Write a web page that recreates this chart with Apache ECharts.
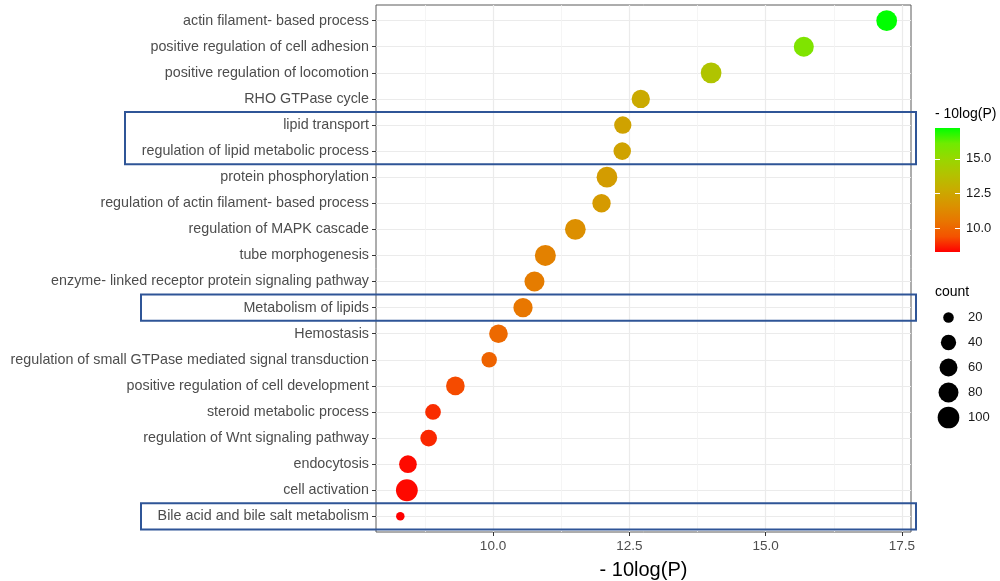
<!DOCTYPE html>
<html>
<head>
<meta charset="utf-8">
<title>Enrichment dot plot</title>
<script src="https://cdn.jsdelivr.net/npm/echarts@6/dist/echarts.min.js"></script>
<style>
  html, body { margin: 0; padding: 0; background: #ffffff; }
  #main { width: 1000px; height: 581px; }
</style>
</head>
<body>
<div id="main"></div>
<script>
// Enriched terms, top to bottom
const terms = [
  'actin filament- based process',
  'positive regulation of cell adhesion',
  'positive regulation of locomotion',
  'RHO GTPase cycle',
  'lipid transport',
  'regulation of lipid metabolic process',
  'protein phosphorylation',
  'regulation of actin filament- based process',
  'regulation of MAPK cascade',
  'tube morphogenesis',
  'enzyme- linked receptor protein signaling pathway',
  'Metabolism of lipids',
  'Hemostasis',
  'regulation of small GTPase mediated signal transduction',
  'positive regulation of cell development',
  'steroid metabolic process',
  'regulation of Wnt signaling pathway',
  'endocytosis',
  'cell activation',
  'Bile acid and bile salt metabolism'
];

// -10log(P) for each term
const logP = [17.22, 15.70, 14.00, 12.71, 12.38, 12.37, 12.09, 11.99, 11.51, 10.96,
              10.76, 10.55, 10.10, 9.93, 9.31, 8.90, 8.82, 8.44, 8.42, 8.30];

// gene count for each term
const counts = [89, 81, 89, 64, 55, 57, 89, 64, 89, 92,
                81, 73, 67, 41, 67, 43, 50, 58, 102, 18];

const xTicks = [10, 12.5, 15, 17.5];
const xMinorTicks = [8.75, 11.25, 13.75, 16.25];
const colorbarTicks = [10, 12.5, 15];
const countBreaks = [20, 40, 60, 80, 100];

// terms framed together
const highlightGroups = [
  ['lipid transport', 'regulation of lipid metabolic process'],
  ['Metabolism of lipids'],
  ['Bile acid and bile salt metabolism']
];

// red -> green ramp, interpolated in Lab space
const rampColors = ['#ff0000', '#f45300', '#e87600', '#da9200', '#c9ab00',
                    '#b3c200', '#98d700', '#70eb00', '#00ff00'];

const FONT = '"Liberation Sans", Arial, Helvetica, sans-serif';
const AXIS_TEXT = '#4d4d4d';
const GRID_MAJOR = '#ebebeb';
const GRID_MINOR = '#f3f3f3';

const pMin = Math.min(...logP);
const pMax = Math.max(...logP);
const pPad = (pMax - pMin) * 0.05;
const cMin = Math.min(...counts);
const cMax = Math.max(...counts);

// area-proportional point diameter
const DOT_MIN = 8.5, DOT_MAX = 21.8;
function dotSize(c) {
  const t = Math.max(0, (c - cMin) / (cMax - cMin));
  return DOT_MIN + (DOT_MAX - DOT_MIN) * Math.sqrt(t);
}

const barGradient = {
  type: 'linear', x: 0, y: 0, x2: 0, y2: 1,
  colorStops: rampColors.slice().reverse().map((c, i, a) => ({ offset: i / (a.length - 1), color: c }))
};

const chart = echarts.init(document.getElementById('main'), null, { renderer: 'canvas' });

const option = {
  animation: false,
  backgroundColor: '#ffffff',
  textStyle: { fontFamily: FONT },
  title: [
    { text: '- 10log(P)', left: 935, top: 107, padding: 0,
      textStyle: { fontSize: 14, fontWeight: 'normal', color: '#000', fontFamily: FONT } },
    { text: 'count', left: 935, top: 285, padding: 0,
      textStyle: { fontSize: 14, fontWeight: 'normal', color: '#000', fontFamily: FONT } }
  ],
  grid: [
    { left: 376, top: 5, width: 535, height: 527, show: true, backgroundColor: '#ffffff',
      borderColor: '#5a5a5a', borderWidth: 1, containLabel: false, outerBoundsMode: 'none' },
    { left: 935, top: 128, width: 25, height: 124, show: true, backgroundColor: barGradient,
      borderWidth: 0, containLabel: false, outerBoundsMode: 'none' },
    { left: 938, top: 305, width: 21, height: 125, containLabel: false, outerBoundsMode: 'none' }
  ],
  xAxis: [
    { gridIndex: 0, type: 'value', position: 'bottom', min: pMin - pPad, max: pMax + pPad,
      axisLine: { show: false, onZero: false },
      axisTick: { show: true, length: 4, lineStyle: { color: '#333333' }, customValues: xTicks },
      axisLabel: { customValues: xTicks, formatter: v => v.toFixed(1), color: AXIS_TEXT,
                   fontSize: 13.5, margin: 7, fontFamily: FONT },
      splitLine: { show: true, lineStyle: { color: GRID_MAJOR, width: 1.2 } },
      name: '- 10log(P)', nameLocation: 'middle', nameGap: 28,
      nameTextStyle: { fontSize: 20, color: '#000', fontFamily: FONT } },
    { gridIndex: 0, type: 'value', position: 'top', min: pMin - pPad, max: pMax + pPad,
      axisLine: { show: false, onZero: false },
      axisTick: { show: false, customValues: xMinorTicks },
      axisLabel: { show: false, customValues: xMinorTicks },
      splitLine: { show: true, lineStyle: { color: GRID_MINOR, width: 0.8 } } },
    { gridIndex: 1, type: 'value', min: 0, max: 1, show: false, axisLine: { onZero: false } },
    { gridIndex: 2, type: 'value', min: -1, max: 1, show: false, axisLine: { onZero: false } }
  ],
  yAxis: [
    { gridIndex: 0, type: 'value', position: 'left', inverse: true, min: -0.6, max: terms.length - 1 + 0.6,
      axisLine: { show: false, onZero: false },
      axisTick: { show: true, length: 4, lineStyle: { color: '#333333' },
                  customValues: terms.map((t, i) => i) },
      axisLabel: { customValues: terms.map((t, i) => i), formatter: v => terms[v],
                   color: AXIS_TEXT, fontSize: 14.3, margin: 7, fontFamily: FONT },
      splitLine: { show: true, lineStyle: { color: GRID_MAJOR, width: 1.2 } } },
    { gridIndex: 1, type: 'value', position: 'right', min: pMin, max: pMax,
      axisLine: { show: false, onZero: false },
      axisTick: { show: true, inside: true, length: 5, lineStyle: { color: '#ffffff', width: 1 },
                  customValues: colorbarTicks },
      axisLabel: { customValues: colorbarTicks, formatter: v => v.toFixed(1), color: '#1a1a1a',
                   fontSize: 13, margin: 6, fontFamily: FONT },
      splitLine: { show: false } },
    { gridIndex: 1, type: 'value', position: 'left', min: pMin, max: pMax,
      axisLine: { show: false, onZero: false },
      axisTick: { show: true, inside: true, length: 5, lineStyle: { color: '#ffffff', width: 1 },
                  customValues: colorbarTicks },
      axisLabel: { show: false, customValues: colorbarTicks },
      splitLine: { show: false } },
    { gridIndex: 2, type: 'category', inverse: true, position: 'right',
      data: countBreaks.map(String), boundaryGap: true,
      axisLine: { show: false, onZero: false }, axisTick: { show: false },
      axisLabel: { color: '#1a1a1a', fontSize: 13, margin: 9, fontFamily: FONT },
      splitLine: { show: false } }
  ],
  visualMap: {
    type: 'continuous', show: false, seriesIndex: 0, dimension: 0,
    min: pMin, max: pMax, inRange: { color: rampColors }
  },
  series: [
    { type: 'scatter', xAxisIndex: 0, yAxisIndex: 0,
      data: terms.map((t, i) => [logP[i], i, counts[i]]),
      symbolSize: v => dotSize(v[2]),
      itemStyle: { opacity: 1 }, silent: true },
    { type: 'scatter', xAxisIndex: 3, yAxisIndex: 3,
      data: countBreaks.map(c => [0, String(c), c]),
      symbolSize: v => dotSize(v[2]),
      itemStyle: { color: '#000000', opacity: 1 }, silent: true }
  ]
};

chart.setOption(option);

// frames around highlighted rows, spanning labels and panel
const BOX_LEFT = [125, 141, 141];
const BOX_RIGHT = 916;
const boxes = highlightGroups.map((group, k) => {
  const idx = group.map(name => terms.indexOf(name));
  const y0 = chart.convertToPixel({ yAxisIndex: 0 }, Math.min(...idx) - 0.5);
  const y1 = chart.convertToPixel({ yAxisIndex: 0 }, Math.max(...idx) + 0.5);
  return {
    type: 'rect', silent: true, z: 100,
    shape: { x: BOX_LEFT[k], y: Math.min(y0, y1), width: BOX_RIGHT - BOX_LEFT[k], height: Math.abs(y1 - y0) },
    style: { fill: 'none', stroke: '#2f5597', lineWidth: 2 }
  };
});
chart.setOption({ graphic: boxes });
</script>
</body>
</html>
